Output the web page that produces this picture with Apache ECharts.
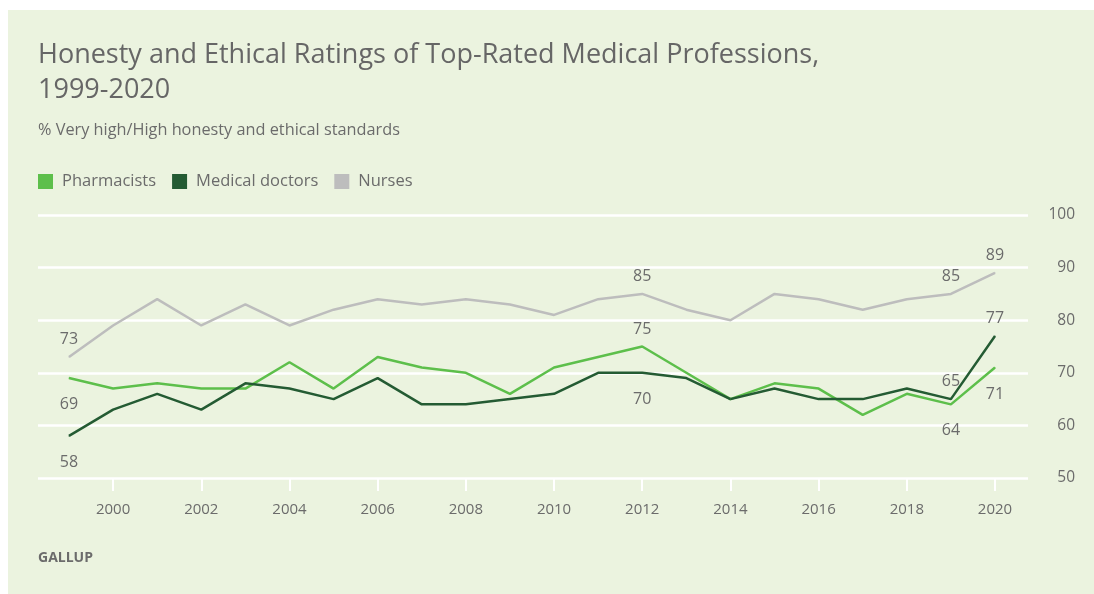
<!DOCTYPE html>
<html>
<head>
<meta charset="utf-8">
<script src="https://cdn.jsdelivr.net/npm/echarts@6/dist/echarts.min.js"></script>
<style>
  html, body { margin: 0; padding: 0; background: #ffffff; }
  #wrap { position: absolute; left: 8px; top: 10px; width: 1086px; height: 584px; background: #ebf3df; }
  #chart { position: absolute; left: 0; top: 0; width: 1094px; height: 594px; }
</style>
</head>
<body>
<div id="wrap"></div>
<div id="chart"></div>
<script>
const years = ['1999','2000','2001','2002','2003','2004','2005','2006','2007','2008','2009','2010','2011','2012','2013','2014','2015','2016','2017','2018','2019','2020'];
const pharmacists = [69, 67, 68, 67, 67, 72, 67, 73, 71, 70, 66, 71, 73, 75, 70, 65, 68, 67, 62, 66, 64, 71];
const doctors     = [58, 63, 66, 63, 68, 67, 65, 69, 64, 64, 65, 66, 70, 70, 69, 65, 67, 65, 65, 67, 65, 77];
const nurses      = [73, 79, 84, 79, 83, 79, 82, 84, 83, 84, 83, 81, 84, 85, 82, 80, 85, 84, 82, 84, 85, 89];
const yTicks = [50, 60, 70, 80, 90, 100];

// which points carry a value label, and where
const pharmLabels  = { 0: 'bottom', 13: 'top', 20: 'bottom', 21: 'bottom' };
const doctorLabels = { 0: 'bottom', 13: 'bottom', 20: 'top', 21: 'top' };
const nurseLabels  = { 0: 'top', 13: 'top', 20: 'top', 21: 'top' };

const TXT = '#6b6b6b';
const FONT = '"Open Sans", Roboto, sans-serif';

function buildData(values, spec) {
  return values.map((v, i) => {
    const pos = spec[i];
    if (!pos) return v;
    return {
      value: v,
      label: {
        show: true,
        position: pos,
        distance: pos === 'top' ? 9 : 18
      }
    };
  });
}

function makeSeries(name, values, spec, color, width) {
  return {
    name: name,
    type: 'line',
    xAxisIndex: 1,
    yAxisIndex: 1,
    data: buildData(values, spec),
    symbol: 'circle',
    symbolSize: 1,
    showSymbol: true,
    lineStyle: { color: color, width: width },
    itemStyle: { color: color },
    label: { show: false, color: TXT, fontSize: 16, fontFamily: FONT },
    emphasis: { disabled: true },
    silent: true
  };
}

const chart = echarts.init(document.getElementById('chart'), null, { renderer: 'canvas' });
chart.setOption({
  backgroundColor: 'transparent',
  animation: false,
  title: [
    {
      text: 'Honesty and Ethical Ratings of Top-Rated Medical Professions,\n1999-2020',
      left: 33, top: 33,
      textStyle: { color: '#666666', fontSize: 27, fontWeight: 'normal', fontFamily: FONT, lineHeight: 35 }
    },
    {
      text: '% Very high/High honesty and ethical standards',
      left: 33, top: 117,
      textStyle: { color: TXT, fontSize: 16.3, fontWeight: 'normal', fontFamily: FONT }
    },
    {
      text: 'GALLUP',
      left: 33, top: 546,
      textStyle: { color: TXT, fontSize: 14, fontWeight: 'bold', fontFamily: FONT, letterSpacing: 1.2 }
    }
  ],
  legend: {
    left: 33, top: 168,
    icon: 'rect',
    itemWidth: 15, itemHeight: 15,
    itemGap: 16,
    selectedMode: false,
    textStyle: { color: TXT, fontSize: 16.5, fontFamily: FONT, padding: [0, 0, 0, 4] },
    data: ['Pharmacists', 'Medical doctors', 'Nurses']
  },
  grid: [
    { left: 38, right: 66, top: 215, bottom: 116 },
    { left: 69, right: 99, top: 215, bottom: 116 }
  ],
  xAxis: [
    { gridIndex: 0, type: 'value', min: 0, max: 1, show: false },
    {
      gridIndex: 1, type: 'category', data: years, boundaryGap: false,
      axisLine: { show: false },
      axisTick: {
        show: true, length: 13, lineStyle: { color: '#ffffff', width: 2 },
        interval: (i, v) => Number(v) % 2 === 0
      },
      axisLabel: {
        interval: (i, v) => Number(v) % 2 === 0,
        color: TXT, fontSize: 15, margin: 24,
        fontFamily: FONT
      },
      splitLine: { show: false }
    }
  ],
  yAxis: [
    {
      gridIndex: 0, type: 'value', position: 'right',
      min: yTicks[0], max: yTicks[yTicks.length - 1], interval: 10,
      axisLine: { show: false }, axisTick: { show: false },
      axisLabel: { color: TXT, fontSize: 15.5, fontFamily: FONT, align: 'right', margin: 47 },
      splitLine: { show: true, lineStyle: { color: '#ffffff', width: 2.5 } }
    },
    {
      gridIndex: 1, type: 'value', min: 50, max: 100, show: false,
      splitLine: { show: false }
    }
  ],
  series: [
    makeSeries('Pharmacists', pharmacists, pharmLabels, '#5dbf4b', 2.5),
    makeSeries('Medical doctors', doctors, doctorLabels, '#245b33', 2.5),
    makeSeries('Nurses', nurses, nurseLabels, '#bdbdbd', 2.5)
  ]
});
</script>
</body>
</html>
